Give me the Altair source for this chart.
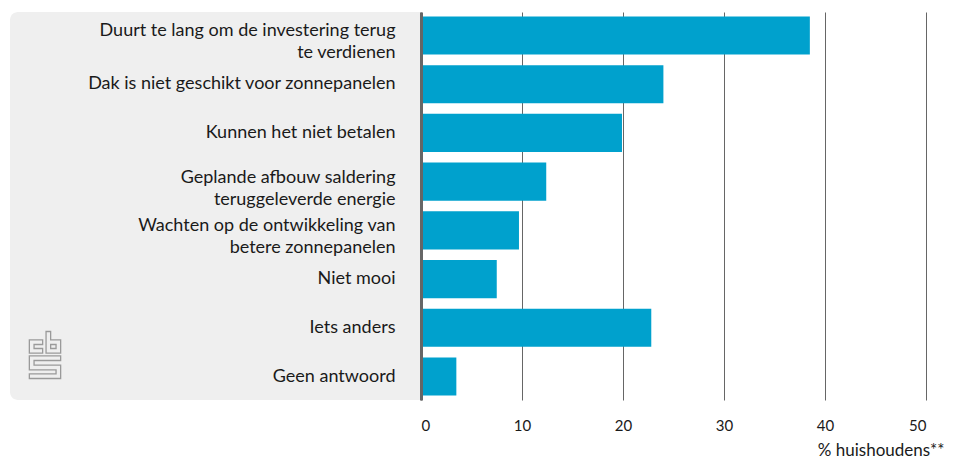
import altair as alt
import pandas as pd

categories = [
    "Duurt te lang om de investering terug|te verdienen",
    "Dak is niet geschikt voor zonnepanelen",
    "Kunnen het niet betalen",
    "Geplande afbouw saldering|teruggeleverde energie",
    "Wachten op de ontwikkeling van|betere zonnepanelen",
    "Niet mooi",
    "Iets anders",
    "Geen antwoord",
]
values = [38.5, 24.0, 19.9, 12.4, 9.7, 7.5, 22.8, 3.5]
x_ticks = [0, 10, 20, 30, 40, 50]
x_title = "% huishoudens**"

df = pd.DataFrame({"cat": categories, "val": values})

FONT = "Lato"
BLUE = "#00a1cd"
W, H = 505, 388

# CBS logo outline (decoration), pixel units, normalised to a symbol path
logo_polys = [
    [(13.3, 8.3), (0, 8.3), (0, 21.7), (13.3, 21.7), (13.3, 17), (4.7, 17), (4.7, 13), (13.3, 13)],
    [(16.7, 0), (21.3, 0), (21.3, 8.3), (31.3, 8.3), (31.3, 21.7), (16.7, 21.7)],
    [(21.3, 13), (26.7, 13), (26.7, 17), (21.3, 17)],
    [(31.3, 24.3), (0, 24.3), (0, 38.3), (26.7, 38.3), (26.7, 42.3), (0, 42.3), (0, 47),
     (31.3, 47), (31.3, 33.6), (4.7, 33.6), (4.7, 29), (31.3, 29)],
]
cx, cy, s = 15.65, 23.5, 23.5
parts = []
for poly in logo_polys:
    pts = [f"{(px - cx) / s:.4f},{(py - cy) / s:.4f}" for px, py in poly]
    parts.append("M" + " L".join(pts) + " Z")
logo_path = " ".join(parts)

base = alt.Chart(df)

panel = base.mark_rect(
    color="#efefef", cornerRadiusTopLeft=8, cornerRadiusBottomLeft=8
).encode(
    x=alt.value(-411), x2=alt.value(0), y=alt.value(0), y2=alt.value(H)
).transform_filter("datum.cat == 'Niet mooi'")

logo = base.mark_point(
    shape=logo_path, filled=False, stroke="#9a9a9a", strokeWidth=1.3, size=2209, opacity=1
).encode(
    x=alt.value(-376), y=alt.value(343)
).transform_filter("datum.cat == 'Niet mooi'")

bars = base.mark_bar(color=BLUE).encode(
    x=alt.X(
        "val:Q",
        scale=alt.Scale(domain=[0, 50], nice=False),
        axis=alt.Axis(
            values=x_ticks,
            title=x_title,
            grid=True,
            gridColor="#666666",
            gridWidth=1,
            domain=False,
            ticks=False,
            tickSize=0,
            labelPadding=18,
            labelFont=FONT,
            labelFontSize=15,
            labelColor="#1a1a1a",
            titleFont=FONT,
            titleFontSize=17,
            titleFontWeight="normal",
            titleColor="#1a1a1a",
            titleAnchor="end",
            titleAlign="right",
            titleBaseline="alphabetic",
            titleX=523,
            titleY=55,
            zindex=0,
        ),
    ),
    y=alt.Y(
        "cat:N",
        sort=None,
        scale=alt.Scale(paddingInner=0.22, paddingOuter=0.09),
        axis=alt.Axis(
            title=None,
            labelExpr="split(datum.label, '|')",
            labelLimit=0,
            labelFont=FONT,
            labelFontSize=18,
            labelColor="#1a1a1a",
            labelLineHeight=22,
            labelOffset={"condition": {"test": "indexof(datum.value, '|') >= 0", "value": -4}, "value": 0},
            labelPadding=26,
            ticks=False,
            tickSize=0,
            domain=True,
            domainColor="#666666",
            domainWidth=3,
            grid=False,
            zindex=1,
        ),
    ),
)

chart = alt.layer(panel, logo, bars).properties(
    width=W,
    height=H,
    autosize=alt.AutoSizeParams(type="none"),
    padding={"left": 413, "top": 4, "right": 25, "bottom": 60},
).configure_view(stroke=None)

chart.save("out.html", embed_options={"renderer": "svg", "actions": False})
